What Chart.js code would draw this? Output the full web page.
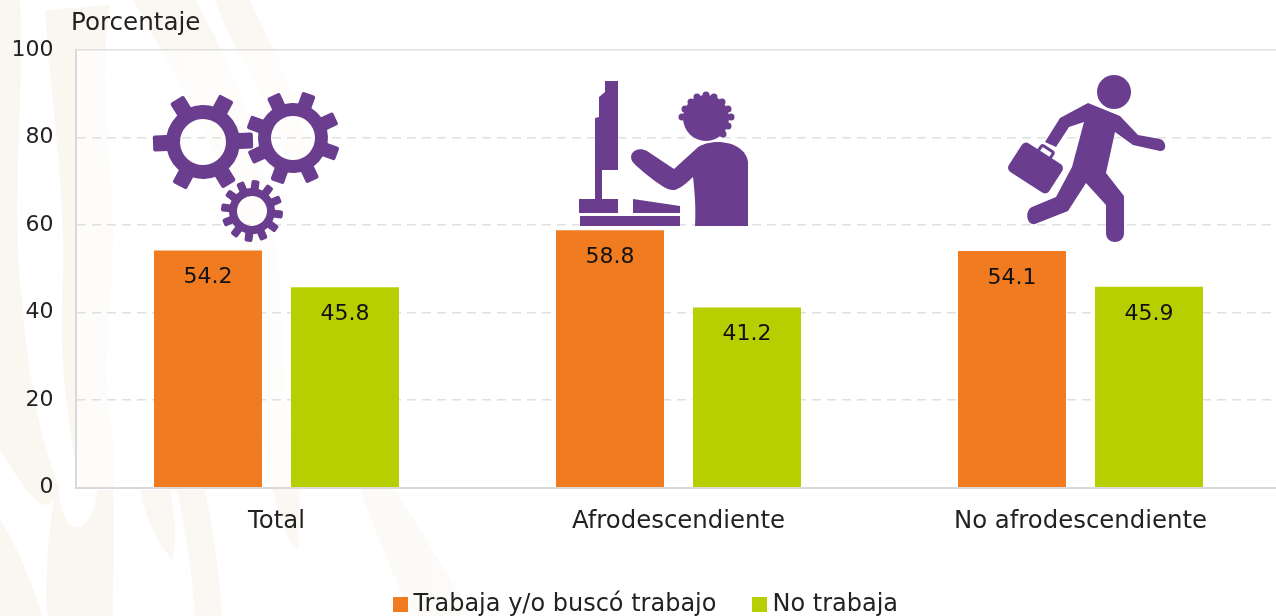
<!DOCTYPE html>
<html><head><meta charset="utf-8">
<style>html,body{margin:0;padding:0;background:#fff;overflow:hidden;width:1276px;height:616px}#w{position:absolute;left:0;top:0;width:1290px;height:616px}</style>
<script src="https://cdn.jsdelivr.net/npm/chart.js@4"></script>
</head><body><div id="w"><canvas id="c" width="1290" height="616"></canvas></div>
<script>
const categories=['Total','Afrodescendiente','No afrodescendiente'];
const seriesNames=['Trabaja y/o buscó trabajo','No trabaja'];
const trabaja=[54.2,58.8,54.1];
const noTrabaja=[45.8,41.2,45.9];
const seriesColors=['#F07B21','#B7CF00'];
const yTitle='Porcentaje';
const FONT='"DejaVu Sans"';
const PURPLE='#6A3D8F';
function swatch(col){const k=document.createElement('canvas');k.width=15;k.height=15;const g=k.getContext('2d');g.fillStyle=col;g.fillRect(0,0,15,15);return k;}
const swatches=seriesColors.map(swatch);

function gear(ctx,cx,cy,rOuter,rBody,rHole,teeth,tw,rot){
  ctx.save();ctx.translate(cx,cy);ctx.rotate(rot);ctx.fillStyle=PURPLE;
  const p=new Path2D();p.arc(0,0,rBody,0,Math.PI*2);p.closePath();p.moveTo(rHole,0);p.arc(0,0,rHole,0,Math.PI*2,true);
  ctx.fill(p,'evenodd');
  for(let i=0;i<teeth;i++){ctx.save();ctx.rotate(i*2*Math.PI/teeth);ctx.beginPath();ctx.roundRect(rBody-3,-tw/2,rOuter-rBody+3,tw,2);ctx.fill();ctx.restore();}
  ctx.restore();
}
function drawGears(ctx){
  gear(ctx,203,142,50,37,23,6,16,-0.03);
  gear(ctx,293,138,47,35,22,8,14,0.35);
  gear(ctx,252,211,31,23,15,12,8,0.12);
}
function drawWorker(ctx){
  ctx.fillStyle=PURPLE;
  ctx.beginPath();ctx.moveTo(605,81);ctx.lineTo(618,81);ctx.lineTo(618,170);ctx.lineTo(602,170);ctx.lineTo(602,199);ctx.lineTo(618,199);ctx.lineTo(618,213);ctx.lineTo(579,213);ctx.lineTo(579,199);ctx.lineTo(595,199);ctx.lineTo(595,118);ctx.lineTo(599,117);ctx.lineTo(599,97);ctx.lineTo(605,92);ctx.closePath();ctx.fill();
  ctx.beginPath();ctx.moveTo(633,199);ctx.lineTo(680,206);ctx.lineTo(680,213);ctx.lineTo(633,213);ctx.closePath();ctx.fill();
  ctx.fillRect(580,216,100,10);
  ctx.beginPath();ctx.arc(706,118,23,0,Math.PI*2);ctx.fill();
  const bumps=[[682,117],[685,109],[691,102],[697,97],[706,95],[714,97],[722,102],[728,109],[731,117],[728,126],[723,134]];
  for(const b of bumps){ctx.beginPath();ctx.arc(b[0],b[1],3.5,0,Math.PI*2);ctx.fill();}
  ctx.beginPath();ctx.moveTo(748,226);ctx.lineTo(748,162);ctx.bezierCurveTo(747,150,733,141,715,142);ctx.bezierCurveTo(706,143,700,145,696,149);ctx.lineTo(674,169);ctx.lineTo(647,151);ctx.bezierCurveTo(638,146,628,152,632,161);ctx.bezierCurveTo(635,166,660,186,668,189);ctx.bezierCurveTo(675,192,680,189,693,177);ctx.bezierCurveTo(695,195,696,210,695,226);ctx.closePath();ctx.fill();
}
function drawRunner(ctx){
  ctx.fillStyle=PURPLE;
  ctx.beginPath();ctx.arc(1114,92,17,0,Math.PI*2);ctx.fill();
  ctx.beginPath();
  ctx.moveTo(1088,103);ctx.lineTo(1120,116);ctx.lineTo(1138,135);ctx.lineTo(1160,139);ctx.bezierCurveTo(1167,141,1167,152,1160,151);ctx.lineTo(1133,145);ctx.lineTo(1115,132);ctx.lineTo(1106,173);ctx.lineTo(1124,196);ctx.lineTo(1124,233);ctx.bezierCurveTo(1124,245,1106,245,1106,233);ctx.lineTo(1106,205);ctx.lineTo(1086,183);ctx.lineTo(1068,211);ctx.lineTo(1035,224);ctx.bezierCurveTo(1027,226,1024,211,1032,207);ctx.lineTo(1056,197);ctx.lineTo(1072,167);ctx.lineTo(1084,122);ctx.lineTo(1069,127);ctx.lineTo(1056,147);ctx.lineTo(1045,142);ctx.lineTo(1060,118);ctx.closePath();ctx.fill();
  ctx.save();ctx.translate(1035.5,168);ctx.rotate(0.576);ctx.beginPath();ctx.roundRect(-24,-17,48,34,5);ctx.fill();
  ctx.lineWidth=3;ctx.strokeStyle=PURPLE;ctx.beginPath();ctx.roundRect(-7,-23,14,8,2);ctx.stroke();ctx.restore();
}
function drawWatermark(chart,ctx){
  ctx.save();
  const g=ctx.createLinearGradient(0,0,560,0);g.addColorStop(0,'#FAF6F0');g.addColorStop(0.5,'#FBF8F4');g.addColorStop(1,'#FEFDFC');
  ctx.fillStyle=g;
  const shapes=[
   'M0 0 L20 0 C25 100 10 200 22 300 C30 400 45 450 60 490 C45 530 20 480 0 450 Z',
   'M45 10 L110 5 C100 70 108 130 112 200 C118 280 100 340 110 420 C115 450 116 470 114 488 L80 488 C70 430 60 380 62 300 C68 200 50 100 45 10 Z',
   'M47 616 C45 560 50 510 58 490 C62 510 65 527 77 527 C88 527 95 510 97 490 L113 490 C115 530 113 570 113 616 Z',
   'M140 490 L170 490 C178 530 175 550 172 560 C155 540 145 515 140 490 Z',
   'M177 490 L205 490 C215 540 220 580 222 616 L195 616 C192 570 185 530 177 490 Z',
   'M133 0 L195 0 C230 60 260 130 272 220 C285 300 280 400 300 490 L298 550 C285 540 278 515 273 490 C255 400 250 300 235 220 C220 140 170 70 133 0 Z',
   'M215 0 L250 0 C262 30 300 90 312 170 L290 170 C270 100 232 50 215 0 Z',
   'M0 520 C15 540 35 590 42 616 L0 616 Z',
   'M340 420 C390 480 430 540 470 616 L410 616 C385 550 355 490 340 420 Z'];
  for(const s of shapes)ctx.fill(new Path2D(s));
  const a=chart.chartArea;ctx.fillStyle='rgba(255,255,255,0.65)';ctx.fillRect(a.left,a.top,a.right-a.left,a.bottom-a.top);
  ctx.restore();
}
let legendPlaced=false;
const deco={id:'deco',
 beforeDraw(chart){const c=chart.ctx;c.save();c.fillStyle='#fff';c.fillRect(0,0,chart.width,chart.height);drawWatermark(chart,c);c.restore();
   if(chart.titleBlock)chart.titleBlock.left=71;
   if(chart.legend&&!legendPlaced){legendPlaced=true;chart.legend.top=549.6;chart.legend.left+=8.5;chart.legend.right+=8.5;}},
 afterDatasetsDraw(chart){const c=chart.ctx;c.save();drawGears(c);drawWorker(c);drawRunner(c);
   c.font='22px '+FONT;c.fillStyle='#111';c.textAlign='center';c.textBaseline='middle';
   chart.data.datasets.forEach((d,i)=>{chart.getDatasetMeta(i).data.forEach((el,j)=>{c.fillText(d.data[j].toFixed(1),el.x,el.y+27);});});
   c.restore();}
};
new Chart(document.getElementById('c'),{
 type:'bar',
 data:{labels:categories,datasets:[
  {label:seriesNames[0],data:trabaja,backgroundColor:seriesColors[0],categoryPercentage:0.6816,barPercentage:0.788},
  {label:seriesNames[1],data:noTrabaja,backgroundColor:seriesColors[1],categoryPercentage:0.6816,barPercentage:0.788}]},
 plugins:[deco],
 options:{responsive:false,animation:false,
  layout:{padding:{top:0,left:0,right:8.5,bottom:-8}},
  plugins:{tooltip:{enabled:false},
   title:{display:true,text:yTitle,align:'start',color:'#222',font:{family:FONT,size:24.6,weight:'normal'},padding:{top:9,bottom:11.5}},
   legend:{position:'bottom',labels:{font:{family:FONT,size:24},color:'#222',usePointStyle:true,pointStyleWidth:1,boxHeight:15,padding:43,
     generateLabels:ch=>ch.data.datasets.map((d,i)=>({text:d.label,fillStyle:d.backgroundColor,strokeStyle:d.backgroundColor,lineWidth:0,pointStyle:swatches[i],datasetIndex:i,fontColor:'#222'}))}}},
  scales:{
   x:{grid:{display:false},border:{color:'#D9D9D9',width:2},ticks:{font:{family:FONT,size:24.4},color:'#222',padding:11,maxRotation:0}},
   y:{min:0,max:100,afterFit(s){s.width=75.5;},
     ticks:{stepSize:20,font:{family:FONT,size:22},color:'#222',padding:22},
     border:{color:'#D9D9D9',width:2,dash:ctx=>(ctx.tick&&ctx.tick.value>0&&ctx.tick.value<100)?[9,6]:[]},
     grid:{color:'#E0E0E0',lineWidth:1.5,drawTicks:false}}
  }}
});
</script></body></html>
